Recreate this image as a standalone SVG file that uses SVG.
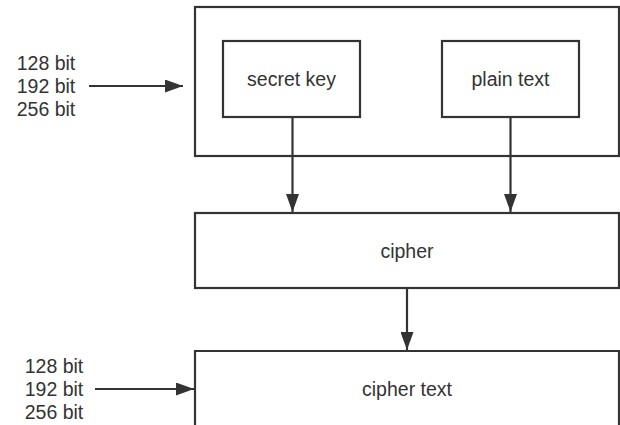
<svg xmlns="http://www.w3.org/2000/svg" width="620" height="425" viewBox="0 0 620 425">
<defs>
<marker id="ah" markerWidth="18" markerHeight="13" refX="18" refY="6.5" orient="auto" markerUnits="userSpaceOnUse" viewBox="0 0 18 13">
<path d="M0,0 L18,6.5 L0,13 Z" fill="#333"/>
</marker>
<style>
.box{fill:#fff;stroke:#333;stroke-width:2.2}
.lbl{font-family:"Liberation Sans",Arial,sans-serif;font-size:19.5px;fill:#333;text-anchor:middle;dominant-baseline:central}
.edge{stroke:#333;stroke-width:2.2;fill:none;marker-end:url(#ah)}
</style>
</defs>
<rect width="620" height="425" fill="#fff"/>
<g id="outer"><rect class="box" x="195" y="7" width="424" height="149"/></g>
<g id="secret-key"><rect class="box" x="223" y="41" width="137" height="76"/><text class="lbl" x="291.5" y="79">secret key</text></g>
<g id="plain-text"><rect class="box" x="442" y="41" width="137" height="76"/><text class="lbl" x="510.5" y="79">plain text</text></g>
<g id="cipher"><rect class="box" x="195" y="213" width="424" height="75"/><text class="lbl" x="407" y="251">cipher</text></g>
<g id="cipher-text"><path class="box" d="M195,430 V351 H619 V430"/><text class="lbl" x="407" y="389">cipher text</text></g>
<g id="keysize-top"><text class="lbl" x="46" y="63">128 bit</text><text class="lbl" x="46" y="86">192 bit</text><text class="lbl" x="46" y="109">256 bit</text></g>
<g id="keysize-bottom"><text class="lbl" x="54" y="366">128 bit</text><text class="lbl" x="54" y="389">192 bit</text><text class="lbl" x="54" y="412">256 bit</text></g>
<g id="connectors">
<line class="edge" x1="89" y1="86" x2="183" y2="86"/>
<line class="edge" x1="95" y1="389" x2="194" y2="389"/>
<line class="edge" x1="292.5" y1="117" x2="292.5" y2="212"/>
<line class="edge" x1="510.5" y1="117" x2="510.5" y2="212"/>
<line class="edge" x1="407" y1="288" x2="407" y2="350"/>
</g>
</svg>
